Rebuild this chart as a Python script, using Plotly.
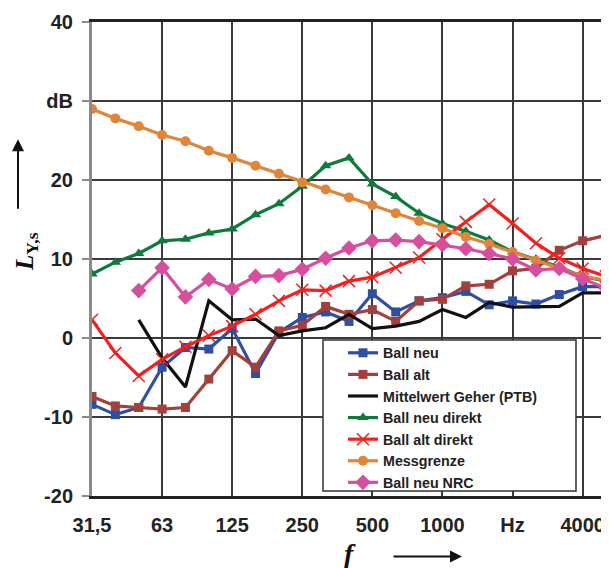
import plotly.graph_objects as go

# third-octave band centre frequencies (category positions)
bands = ["31,5", "40", "50", "63", "80", "100", "125", "160", "200", "250", "315", "400",
         "500", "630", "800", "1000", "1250", "1600", "2000", "2500", "3150", "4000", "5000"]
tick_labels = ["31,5", "63", "125", "250", "500", "1000", "Hz", "4000"]
tick_index = [0, 3, 6, 9, 12, 15, 18, 21]

ball_neu = [-8.4, -9.7, -8.8, -3.7, -1.2, -1.4, 1.2, -4.5, 0.7, 2.6, 3.3, 2.1, 5.6, 3.3,
            4.7, 5.1, 5.9, 4.2, 4.7, 4.3, 5.5, 6.5, 6.5]
ball_alt = [-7.4, -8.6, -8.8, -9.0, -8.8, -5.2, -1.6, -3.7, 0.9, 1.6, 4.0, 3.0, 3.6, 2.1,
            4.7, 4.9, 6.6, 6.8, 8.5, 8.8, 11.1, 12.3, 13.0]
mittelwert = [None, None, 2.3, -2.5, -6.2, 4.7, 2.3, 2.4, 0.3, 0.9, 1.3, 3.0, 1.2, 1.5,
              2.1, 3.6, 2.6, 4.5, 3.9, 3.9, 4.0, 5.7, 5.7]
ball_neu_direkt = [8.1, 9.6, 10.7, 12.3, 12.5, 13.3, 13.8, 15.6, 17.0, 19.2, 21.8, 22.8, 19.5,
                   17.9, 15.8, 14.5, 13.5, 12.4, 10.9, 10.0, 9.0, 7.8, 7.2]
ball_alt_direkt = [2.3, -1.9, -4.8, -2.7, -1.1, 0.3, 1.5, 3.0, 4.7, 6.1, 6.0, 7.2, 7.7, 8.9,
                   10.2, 12.5, 14.7, 16.9, 14.5, 12.0, 10.1, 8.8, 7.8]
messgrenze = [29.0, 27.8, 26.8, 25.7, 24.9, 23.7, 22.8, 21.8, 20.8, 19.7, 18.8, 17.8, 16.8,
              15.8, 14.8, 13.9, 12.8, 11.9, 10.9, 9.8, 8.9, 7.8, 7.3]
ball_neu_nrc = [None, None, 6.0, 8.9, 5.2, 7.4, 6.2, 7.8, 7.9, 8.7, 10.1, 11.4, 12.3, 12.4,
                12.2, 11.8, 11.3, 10.7, 10.0, 8.6, 8.8, 7.5, 6.3]

y_ticks = [-20, -10, 0, 10, 20, 30, 40]
y_tick_labels = ["-20", "-10", "0", "10", "20", "dB", "40"]

x = list(range(len(bands)))

series = [
    ("Ball neu", ball_neu, "#2F4FA2", dict(symbol="square", size=9)),
    ("Ball alt", ball_alt, "#A3403B", dict(symbol="square", size=9)),
    ("Mittelwert Geher (PTB)", mittelwert, "#111111", None),
    ("Ball neu direkt", ball_neu_direkt, "#0E7A3C", dict(symbol="triangle-up", size=10)),
    ("Ball alt direkt", ball_alt_direkt, "#F2201E", dict(symbol="x-thin", size=12,
                                                          line=dict(width=1.5, color="#F2201E"))),
    ("Messgrenze", messgrenze, "#E0853A", dict(symbol="circle", size=10)),
    ("Ball neu NRC", ball_neu_nrc, "#D64E9E", dict(symbol="diamond", size=12)),
]

fig = go.Figure()
for name, vals, color, mk in series:
    if mk is None:
        fig.add_trace(go.Scatter(x=x, y=vals, name=name, mode="lines",
                                 line=dict(color=color, width=3.2)))
    else:
        m = dict(color=color)
        m.update(mk)
        fig.add_trace(go.Scatter(x=x, y=vals, name=name, mode="lines+markers",
                                 line=dict(color=color, width=3.2), marker=m))

tick_font = dict(family="Liberation Sans, Arial, sans-serif", size=20,
                 color="#222222", weight="bold")

# the page body has an 8px margin: the figure is sized/placed to compensate
PL, PT = 92, 19          # plot area left / top in the window
PW, PH = 514, 477        # plot area size
OFF = 8


def px(xp):
    return (xp - PL) / PW


def py(yp):
    return ((PT + PH) - yp) / PH


fig.update_layout(
    width=601, height=560,
    margin=dict(l=PL - OFF, r=3, t=PT - OFF, b=560 - (PT - OFF) - PH),
    paper_bgcolor="white", plot_bgcolor="white",
    showlegend=True,
    legend=dict(x=px(343), y=py(336), xanchor="left", yanchor="top",
                bgcolor="rgba(0,0,0,0)", borderwidth=0,
                font=dict(family="Liberation Sans, Arial, sans-serif", size=14.3,
                          color="#222222", weight="bold"),
                tracegroupgap=0, itemwidth=30),
    xaxis=dict(range=[0, 22], tickmode="array", tickvals=tick_index, ticktext=tick_labels,
               showgrid=True, gridcolor="#3a3a3a", gridwidth=1.5, zeroline=False,
               showline=True, linecolor="#222222", linewidth=3, mirror=True,
               ticks="", tickfont=tick_font, ticklabelstandoff=9),
    yaxis=dict(range=[-20, 40], tickmode="array", tickvals=y_ticks, ticktext=y_tick_labels,
               showgrid=True, gridcolor="#3a3a3a", gridwidth=1.5, zeroline=False,
               showline=True, linecolor="#8a8a8a", linewidth=3,
               ticks="outside", ticklen=7, tickcolor="#8a8a8a", tickwidth=1.5,
               tickfont=tick_font, ticklabelstandoff=5),
)

# right border
fig.add_shape(type="line", xref="paper", yref="paper", x0=1, x1=1, y0=0, y1=1,
              line=dict(color="#222222", width=2.5))
# legend frame (white box covering grid and lines)
fig.add_shape(type="rect", xref="paper", yref="paper", x0=px(323), x1=px(576),
              y0=py(491), y1=py(339), layer="above", fillcolor="white",
              line=dict(color="#333333", width=1.5))

serif = "Liberation Serif, Times New Roman, serif"
# y-axis title
fig.add_annotation(xref="paper", yref="paper", x=px(9), y=py(250), showarrow=False,
                   text="<b><i>L</i></b><sub><b>Y,s</b></sub>", textangle=-90,
                   font=dict(family=serif, size=25, color="#111111"))
# vertical arrow
fig.add_annotation(xref="paper", yref="paper", x=px(18), y=py(137),
                   ax=0, ay=71, axref="pixel", ayref="pixel", showarrow=True,
                   arrowhead=2, arrowsize=1.2, arrowwidth=2, arrowcolor="#111111", text="")
# x-axis title
fig.add_annotation(xref="paper", yref="paper", x=px(350), y=py(571),
                   showarrow=False, text="<b><i>f</i></b>",
                   font=dict(family=serif, size=28, color="#111111"))
# horizontal arrow
fig.add_annotation(xref="paper", yref="paper", x=px(462), y=py(557),
                   ax=-70, ay=0, axref="pixel", ayref="pixel", showarrow=True,
                   arrowhead=2, arrowsize=1.2, arrowwidth=2, arrowcolor="#111111", text="")

fig.write_html("out.html")
